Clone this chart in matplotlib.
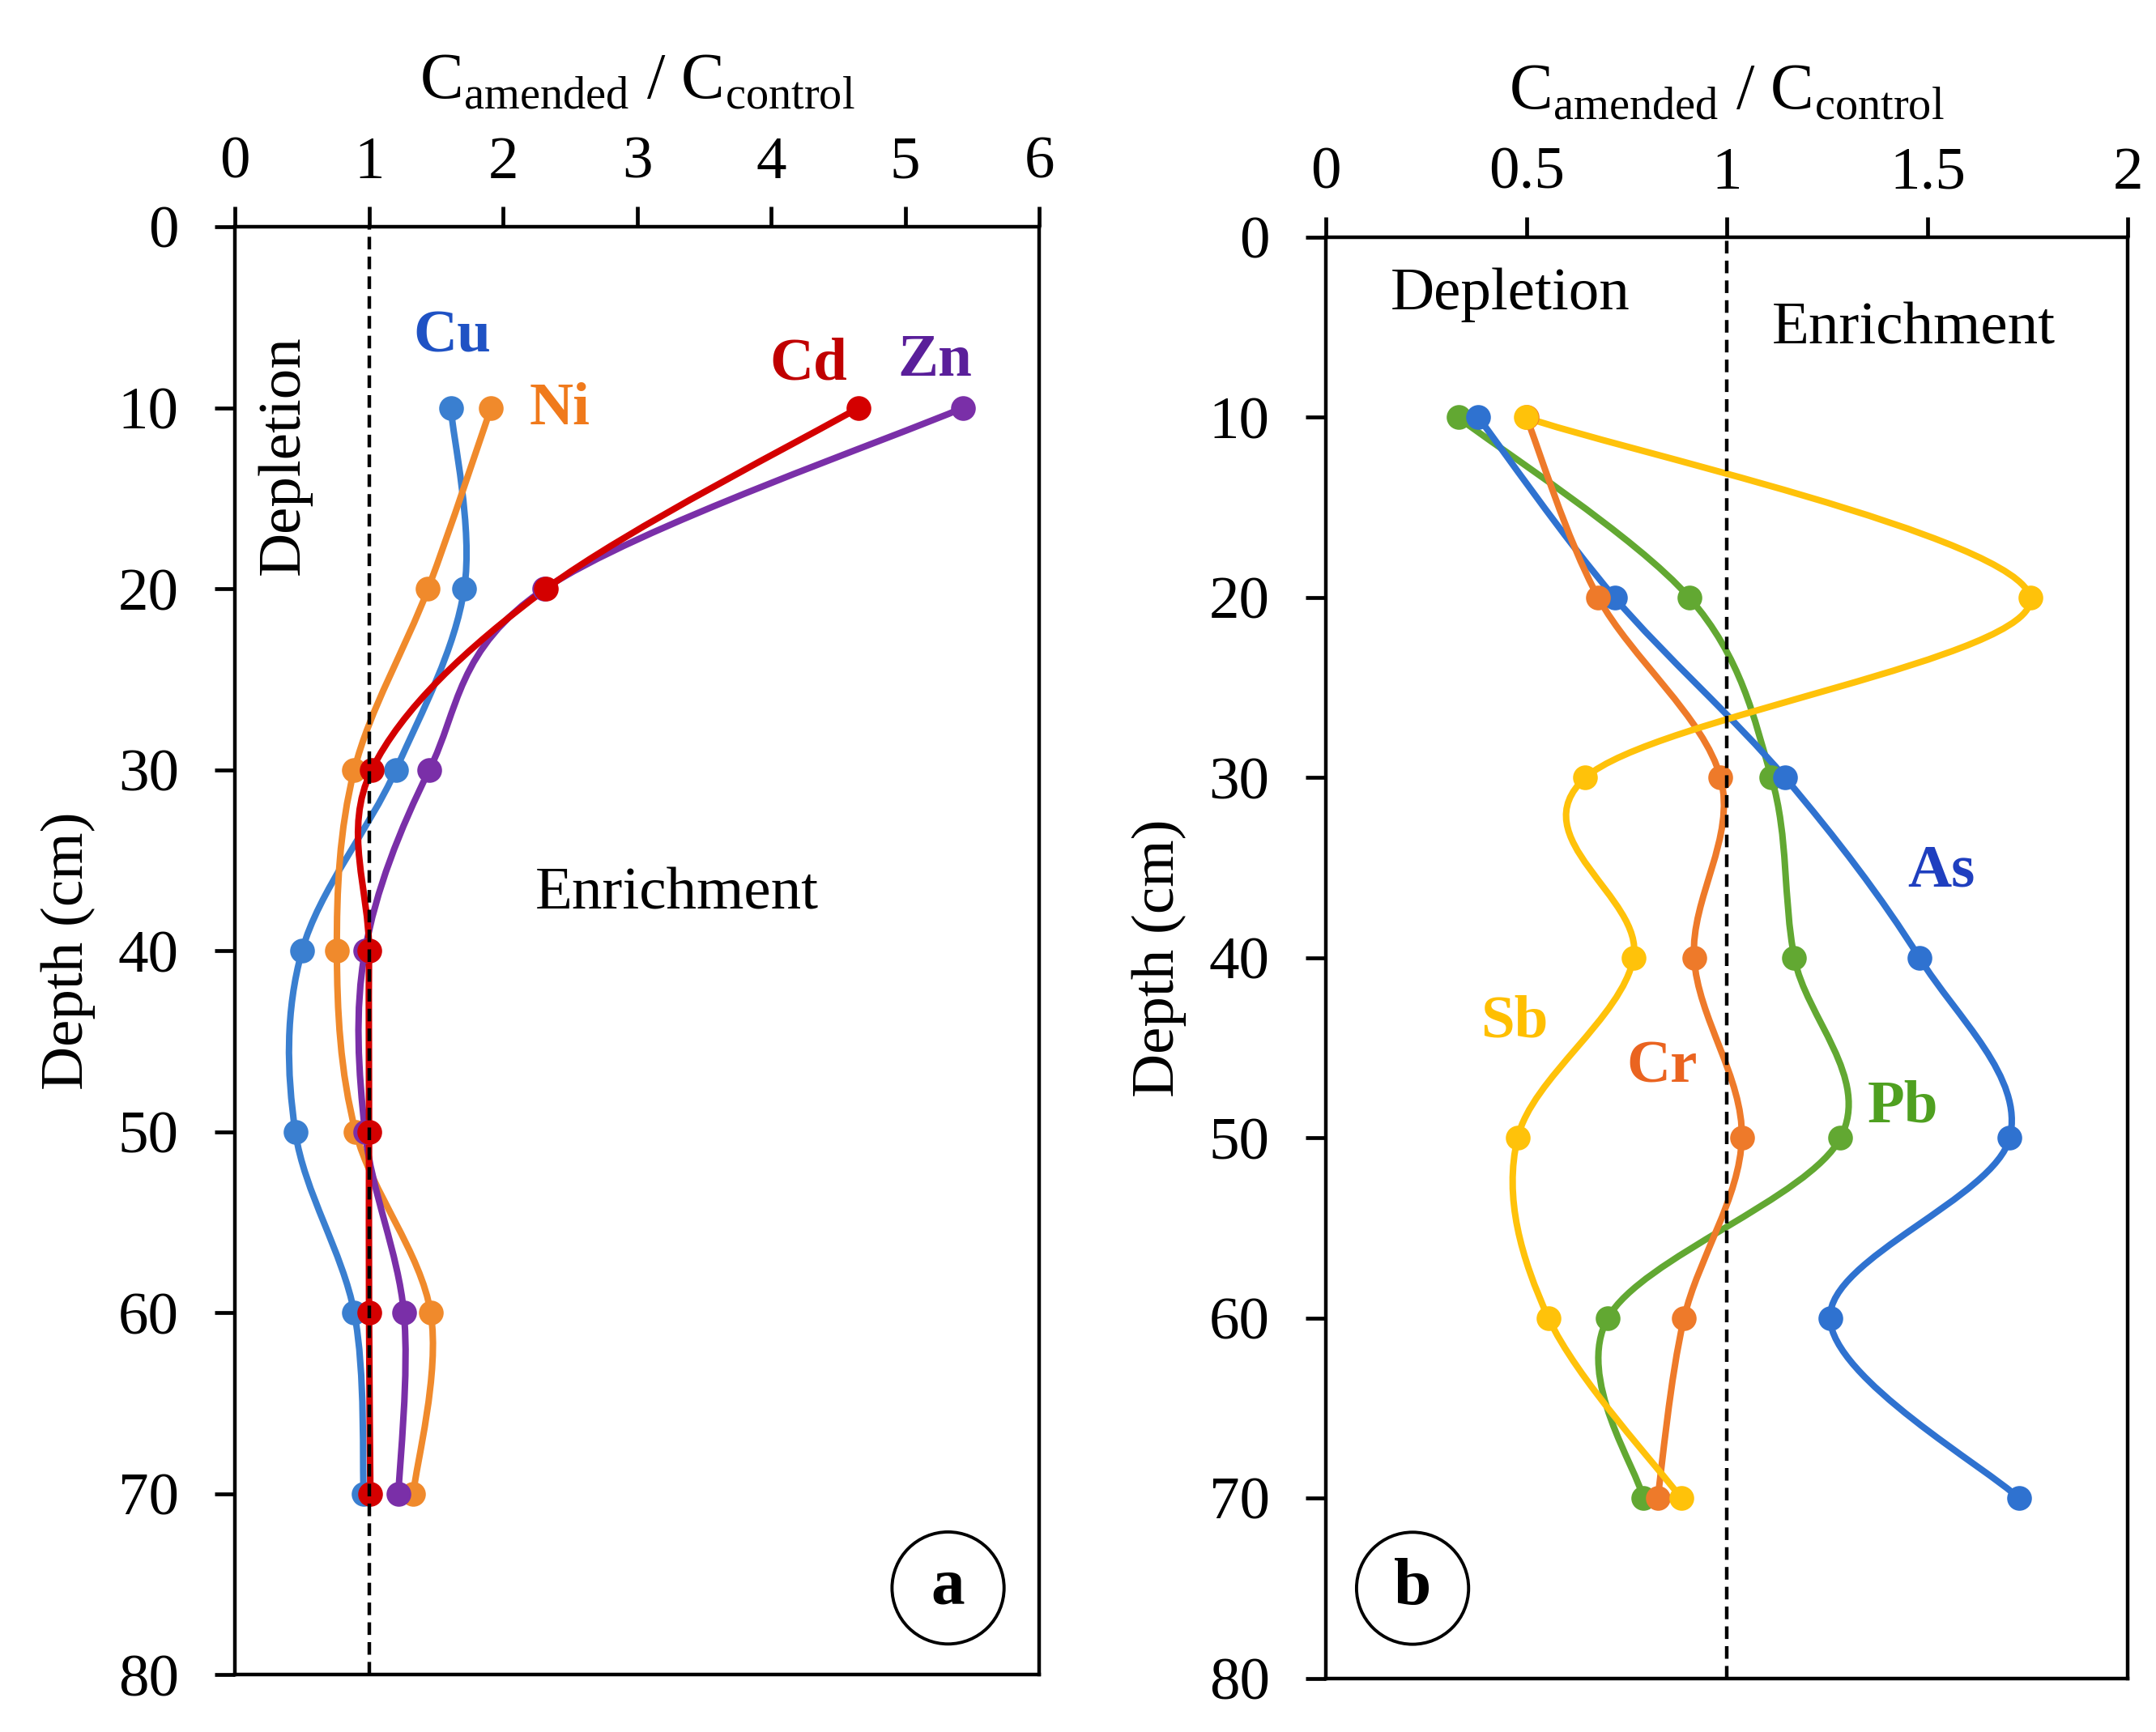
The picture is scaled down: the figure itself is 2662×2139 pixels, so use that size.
#!/usr/bin/env python3
"""Depth profiles of C_amended / C_control for two groups of elements."""
import numpy as np
import matplotlib

matplotlib.use("Agg")
import matplotlib.pyplot as plt
from matplotlib.path import Path
from matplotlib.patches import PathPatch
from matplotlib.ticker import FuncFormatter

plt.rcParams["font.family"] = ["Liberation Serif", "DejaVu Serif"]
plt.rcParams["mathtext.fontset"] = "custom"
plt.rcParams["mathtext.rm"] = "Liberation Serif"

depth = [10, 20, 30, 40, 50, 60, 70]

# panel a
cu = [1.61, 1.71, 1.20, 0.50, 0.45, 0.89, 0.96]
ni = [1.91, 1.44, 0.89, 0.76, 0.90, 1.46, 1.33]
zn = [5.43, 2.31, 1.45, 0.97, 0.97, 1.26, 1.22]
cd = [4.65, 2.32, 1.02, 1.00, 1.00, 1.00, 1.01]

# panel b
as_ = [0.38, 0.72, 1.145, 1.48, 1.705, 1.257, 1.728]
pb = [0.33, 0.906, 1.111, 1.168, 1.283, 0.703, 0.791]
cr = [0.50, 0.679, 0.984, 0.918, 1.037, 0.893, 0.827]
sb = [0.499, 1.756, 0.647, 0.767, 0.478, 0.555, 0.886]

xticks_a = [0, 1, 2, 3, 4, 5, 6]
xticks_b = [0, 0.5, 1, 1.5, 2]
yticks = [0, 10, 20, 30, 40, 50, 60, 70, 80]

FS = 27


def smooth_path(x, y):
    pts = np.column_stack([x, y]).astype(float)
    n = len(pts)
    verts = [pts[0]]
    codes = [Path.MOVETO]
    for i in range(n - 1):
        p0 = pts[max(i - 1, 0)]
        p1 = pts[i]
        p2 = pts[i + 1]
        p3 = pts[min(i + 2, n - 1)]
        verts += [p1 + (p2 - p0) / 6.0, p2 - (p3 - p1) / 6.0, p2]
        codes += [Path.CURVE4] * 3
    return Path(verts, codes)


def draw_series(ax, x, color):
    ax.add_patch(PathPatch(smooth_path(x, depth), fill=False, ec=color, lw=2.9,
                           capstyle="round", joinstyle="round", zorder=3))
    ax.plot(x, depth, linestyle="none", marker="o", ms=10, color=color, zorder=4)


def style_axis(ax, xlim, xticks):
    ax.set_xlim(*xlim)
    ax.set_ylim(80, 0)
    ax.xaxis.tick_top()
    ax.xaxis.set_label_position("top")
    ax.set_xticks(xticks)
    ax.set_yticks(yticks)
    ax.xaxis.set_major_formatter(FuncFormatter(lambda v, p: f"{v:g}"))
    ax.tick_params(axis="x", direction="out", length=9, width=1.7, pad=7, labelsize=FS)
    ax.tick_params(axis="y", direction="out", length=9, width=1.7, pad=16, labelsize=FS)
    for sp in ax.spines.values():
        sp.set_linewidth(1.6)
    ax.set_xlabel(r"C$_{\mathrm{amended}}$ / C$_{\mathrm{control}}$", fontsize=29, labelpad=17)
    ax.set_ylabel("Depth (cm)", fontsize=FS, labelpad=10)
    ax.axvline(1, color="black", lw=1.6, dashes=(3.5, 2), zorder=5)


fig = plt.figure(figsize=(13.31, 10.695), dpi=200)
ax_a = fig.add_axes([0.109, 0.033, 0.373, 0.836])
ax_b = fig.add_axes([0.615, 0.031, 0.372, 0.832])

# panel a
style_axis(ax_a, (0, 6), xticks_a)
draw_series(ax_a, cu, "#3a7fd0")
draw_series(ax_a, ni, "#f08a2c")
draw_series(ax_a, zn, "#7a2fa8")
draw_series(ax_a, cd, "#d40000")
ax_a.text(1.62, 6.1, "Cu", color="#1f52c4", fontsize=FS, fontweight="bold", ha="center", va="center")
ax_a.text(2.42, 10.1, "Ni", color="#f07a1c", fontsize=FS, fontweight="bold", ha="center", va="center")
ax_a.text(4.28, 7.6, "Cd", color="#c00000", fontsize=FS, fontweight="bold", ha="center", va="center")
ax_a.text(5.22, 7.4, "Zn", color="#5a1f9a", fontsize=FS, fontweight="bold", ha="center", va="center")
ax_a.text(0.37, 12.6, "Depletion", fontsize=FS, rotation=90, ha="center", va="center")
ax_a.text(3.30, 36.9, "Enrichment", fontsize=FS, ha="center", va="center")
ax_a.text(5.32, 75.2, "a", fontsize=30, fontweight="bold", ha="center", va="center",
          bbox=dict(boxstyle="circle,pad=0.38", fc="white", ec="black", lw=1.4))

# panel b
style_axis(ax_b, (0, 2), xticks_b)
draw_series(ax_b, pb, "#62a832")
draw_series(ax_b, as_, "#2f72d0")
draw_series(ax_b, cr, "#ee7a2a")
draw_series(ax_b, sb, "#ffc20a")
ax_b.text(1.534, 35.2, "As", color="#1f3fbf", fontsize=FS, fontweight="bold", ha="center", va="center")
ax_b.text(0.469, 43.6, "Sb", color="#ffbf00", fontsize=FS, fontweight="bold", ha="center", va="center")
ax_b.text(0.839, 46.1, "Cr", color="#ea6420", fontsize=FS, fontweight="bold", ha="center", va="center")
ax_b.text(1.438, 48.3, "Pb", color="#4fa020", fontsize=FS, fontweight="bold", ha="center", va="center")
ax_b.text(0.46, 3.2, "Depletion", fontsize=FS, ha="center", va="center")
ax_b.text(1.466, 5.1, "Enrichment", fontsize=FS, ha="center", va="center")
ax_b.text(0.216, 75.0, "b", fontsize=30, fontweight="bold", ha="center", va="center",
          bbox=dict(boxstyle="circle,pad=0.38", fc="white", ec="black", lw=1.4))

fig.savefig("out.png", dpi=200)
plt.close(fig)
